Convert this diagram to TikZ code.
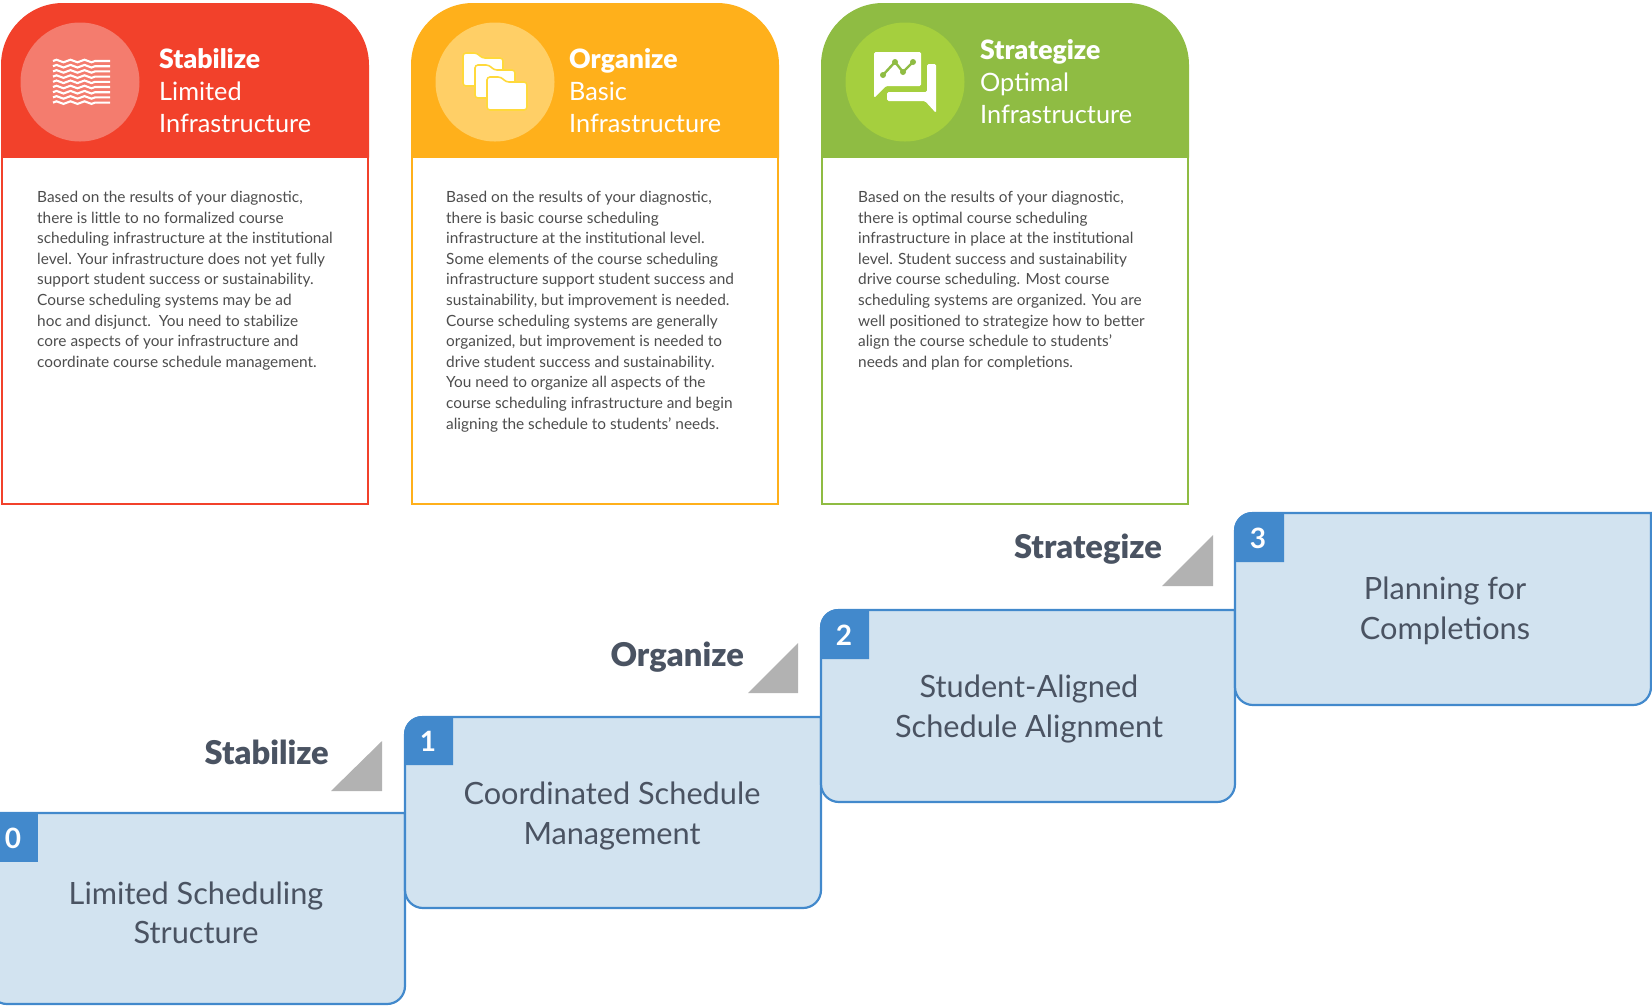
\documentclass[tikz,border=0pt]{standalone}
\usepackage{fontspec}
\setmainfont{Lato}
\newfontfamily\latoblack{Lato Black}
\definecolor{stabred}{HTML}{F2412B}
\definecolor{stabpale}{HTML}{F47C6E}
\definecolor{orgamber}{HTML}{FFB01B}
\definecolor{orgpale}{HTML}{FFCF66}
\definecolor{stratgreen}{HTML}{8FBC43}
\definecolor{stratpale}{HTML}{A5CF3E}
\definecolor{stepblue}{HTML}{4289CC}
\definecolor{stepfill}{HTML}{D2E3F0}
\definecolor{slate}{HTML}{4A5362}
\definecolor{bodygrey}{HTML}{4D4D4D}
\definecolor{folderline}{HTML}{FFD93B}
\tikzset{
headtext/.style={anchor=north west,inner sep=0,align=left,text=white,font=\fontsize{25.3}{32}\selectfont},
bodytext/.style={anchor=north west,inner sep=0,align=left,text=bodygrey,font=\fontsize{15.4}{20.6}\selectfont},
steptext/.style={inner sep=0,align=center,text=slate,font=\fontsize{30.7}{39.5}\selectfont},
phasetext/.style={anchor=base east,inner sep=0,text=slate,font=\fontsize{32.7}{36}\latoblack},
badgetext/.style={inner sep=0,text=white,font=\fontsize{28}{30}\selectfont\bfseries},
disc/.style={circle,inner sep=0,minimum size=119pt},
stepbox/.style={draw=stepblue,fill=stepfill,line width=2.2pt},
wave/.pic={\draw[white,line width=2.1pt] (0,0) sin ++(3.5,-1.3) cos ++(3.5,1.3) sin ++(3.5,1.3) cos ++(3.5,-1.3) sin ++(3.5,-1.3) cos ++(3.5,1.3) sin ++(3.5,1.3) cos ++(3.5,-1.3) sin ++(3.5,-1.3) cos ++(3.5,1.3) sin ++(3.5,1.3) cos ++(3.5,-1.3) -- ++(15,0);},
folder/.pic={\draw[fill=white,draw=folderline,line width=1.6pt,rounded corners=3pt] (0,33) -- (0,0) -- (14,0) -- (19,5) -- (40,5) -- (40,33) -- cycle;}
}
\begin{document}
\begin{tikzpicture}[x=1pt,y=-1pt]
\useasboundingbox (0,0) rectangle (1652,1005);
\clip (0,0) rectangle (1652,1005);
\draw[stabred,line width=2pt,fill=white] (2,157) rectangle (368,504);
\fill[stabred] (1,157.5) [rounded corners=62pt] -- (1,3) -- (369,3) [sharp corners] -- (369,157.5) -- cycle;
\node[disc,fill=stabpale] (discA) at (80,82) {};
\path (53,61) pic{wave} (53,66.2) pic{wave} (53,71.4) pic{wave} (53,76.6) pic{wave} (53,81.8) pic{wave} (53,87) pic{wave} (53,92.2) pic{wave} (53,97.4) pic{wave} (53,102.6) pic{wave};
\node[headtext] (headA) at (159,48) {{\fontsize{26.6}{32}\latoblack Stabilize}\\Limited\\Infrastructure};
\node[bodytext] (bodyA) at (37,191) {Based on the results of your diagnostic,\\there is little to no formalized course\\scheduling infrastructure at the institutional\\level. Your infrastructure does not yet fully\\support student success or sustainability.\\Course scheduling systems may be ad\\hoc and disjunct.\ \ You need to stabilize\\core aspects of your infrastructure and\\coordinate course schedule management.};
\draw[orgamber,line width=2pt,fill=white] (412,157) rectangle (778,504);
\fill[orgamber] (411,157.5) [rounded corners=62pt] -- (411,3) -- (779,3) [sharp corners] -- (779,157.5) -- cycle;
\node[disc,fill=orgpale] (discB) at (495,82) {};
\path (463,53) pic{folder} (475,65) pic{folder} (487,77) pic{folder};
\node[headtext] (headB) at (569,48) {{\fontsize{26.6}{32}\latoblack Organize}\\Basic\\Infrastructure};
\node[bodytext] (bodyB) at (446,191) {Based on the results of your diagnostic,\\there is basic course scheduling\\infrastructure at the institutional level.\\Some elements of the course scheduling\\infrastructure support student success and\\sustainability, but improvement is needed.\\Course scheduling systems are generally\\organized, but improvement is needed to\\drive student success and sustainability.\\You need to organize all aspects of the\\course scheduling infrastructure and begin\\aligning the schedule to students’ needs.};
\draw[stratgreen,line width=2pt,fill=white] (822,157) rectangle (1188,504);
\fill[stratgreen] (821,157.5) [rounded corners=62pt] -- (821,3) -- (1189,3) [sharp corners] -- (1189,157.5) -- cycle;
\node[disc,fill=stratpale] (discC) at (905,82) {};
\fill[white,rounded corners=1.5pt] (874,52) -- (921,52) -- (921,86) -- (886,86) -- (874,98) -- cycle (927,64) -- (936,64) -- (936,113) -- (925,101) -- (887,101) -- (887,92) -- (927,92) -- cycle;
\draw[stratgreen,line width=2.4pt] (883,75) -- (895,62) -- (903,72) -- (913,62);
\fill[stratgreen] (883,75) circle (3) (895,62) circle (3) (903,72) circle (3) (913,62) circle (3);
\node[headtext] (headC) at (980,39) {{\fontsize{26.6}{32}\latoblack Strategize}\\Optimal\\Infrastructure};
\node[bodytext] (bodyC) at (858,191) {Based on the results of your diagnostic,\\there is optimal course scheduling\\infrastructure in place at the institutional\\level. Student success and sustainability\\drive course scheduling. Most course\\scheduling systems are organized. You are\\well positioned to strategize how to better\\align the course schedule to students’\\needs and plan for completions.};
\fill[black!30] (331,791) -- (382,791) -- (382,741) -- cycle (748,693) -- (798,693) -- (798,643) -- cycle (1162,586) -- (1213,586) -- (1213,535) -- cycle;
\node[phasetext] (phaseA) at (329,764) {Stabilize};
\node[phasetext] (phaseB) at (744,666) {Organize};
\node[phasetext] (phaseC) at (1162,558) {Strategize};
\draw[stepbox] (-11,813) [rounded corners=18pt] -- (-11,1004) -- (405,1004) [sharp corners] -- (405,813) -- cycle;
\fill[stepblue] (-11,813) rectangle (38,862);
\node[badgetext] (badgeA) at (13,838) {0};
\node[steptext] (stepA) at (196,913) {Limited Scheduling\\Structure};
\draw[stepbox] (821,717) [rounded corners=18pt] -- (405,717) -- (405,908) -- (821,908) [sharp corners] -- cycle;
\fill[stepblue] (404,765) [rounded corners=18pt] -- (404,716) [sharp corners] -- (453,716) -- (453,765) -- cycle;
\node[badgetext] (badgeB) at (428,741) {1};
\node[steptext] (stepB) at (612,816) {Coordinated Schedule\\Management};
\draw[stepbox] (1235,610) [rounded corners=18pt] -- (821,610) -- (821,802) -- (1235,802) [sharp corners] -- cycle;
\fill[stepblue] (820,659) [rounded corners=18pt] -- (820,609) [sharp corners] -- (869,609) -- (869,659) -- cycle;
\node[badgetext] (badgeC) at (844,635) {2};
\node[steptext] (stepC) at (1029,709) {Student-Aligned\\Schedule Alignment};
\draw[stepbox] (1651,513) [rounded corners=18pt] -- (1235,513) -- (1235,705) -- (1651,705) [sharp corners] -- cycle;
\fill[stepblue] (1234,562) [rounded corners=18pt] -- (1234,512) [sharp corners] -- (1284,512) -- (1284,562) -- cycle;
\node[badgetext] (badgeD) at (1258,538) {3};
\node[steptext] (stepD) at (1445,611) {Planning for\\Completions};
\end{tikzpicture}
\end{document}
